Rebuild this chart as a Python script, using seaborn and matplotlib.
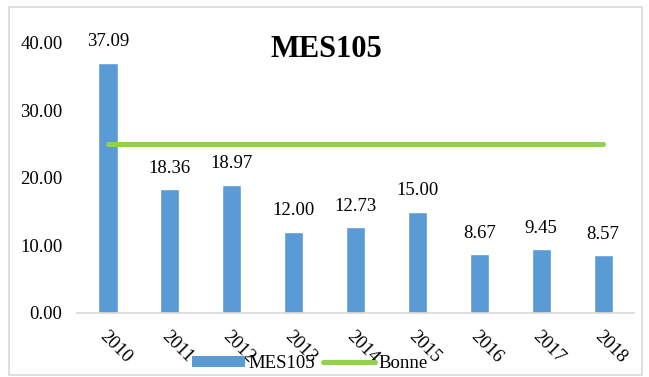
import matplotlib
matplotlib.use("Agg")
import matplotlib.pyplot as plt
import seaborn as sns
import pandas as pd
from matplotlib.patches import Patch, Rectangle
from matplotlib.lines import Line2D

years = ["2010", "2011", "2012", "2013", "2014", "2015", "2016", "2017", "2018"]
mes105 = [37.09, 18.36, 18.97, 12.00, 12.73, 15.00, 8.67, 9.45, 8.57]
bonne = [25, 25, 25, 25, 25, 25, 25, 25, 25]
yticks = [0, 10, 20, 30, 40]

BAR = "#5B9BD5"
GREEN = "#92D050"
GRID = "#D9D9D9"
FS = 13.5

sns.set_theme(style="white")
plt.rcParams["font.family"] = ["Liberation Serif", "DejaVu Serif"]
plt.rcParams["text.color"] = "black"
plt.rcParams["xtick.color"] = "black"
plt.rcParams["ytick.color"] = "black"

df = pd.DataFrame({"year": years, "MES105": mes105, "Bonne": bonne})

fig = plt.figure(figsize=(6.49, 3.77), dpi=100)
ax = fig.add_axes([0.1186, 0.1698, 0.8584, 0.7162])

sns.barplot(data=df, x="year", y="MES105", color=BAR, width=0.31,
            saturation=1, ax=ax, zorder=2)
sns.lineplot(data=df, x="year", y="Bonne", color=GREEN, linewidth=3.6,
             ax=ax, zorder=3, solid_capstyle="round")

for i, v in enumerate(mes105):
    ax.annotate(f"{v:.2f}", (i, v), xytext=(0, 9), textcoords="offset points",
                ha="center", va="bottom", fontsize=FS, color="black",
                annotation_clip=False)

ax.set_ylim(0, 40)
ax.set_xlim(-0.5, len(years) - 0.5)
ax.set_yticks(yticks)
ax.set_yticklabels([f"{t:.2f}" for t in yticks], fontsize=FS, color="black")
ax.set_xticks(range(len(years)))
ax.set_xticklabels(years, rotation=-45, ha="left", va="top",
                   rotation_mode="anchor", fontsize=FS, color="black")
ax.tick_params(axis="y", length=0, pad=10.5)
ax.tick_params(axis="x", length=0, pad=11)
ax.set_xlabel("")
ax.set_ylabel("")
for s in ["top", "left", "right"]:
    ax.spines[s].set_visible(False)
ax.spines["bottom"].set_color(GRID)
ax.spines["bottom"].set_linewidth(1.2)
if ax.get_legend():
    ax.get_legend().remove()

fig.text(0.503, 0.849, "MES105", ha="center", va="baseline",
         fontsize=22, fontweight="bold", color="black")

handles = [Patch(facecolor=BAR, edgecolor="none"),
           Line2D([0], [0], color=GREEN, linewidth=3.6)]
leg = fig.legend(handles, ["MES105", "Bonne"], loc="center", ncol=2,
                 bbox_to_anchor=(0.478, 0.035), frameon=False, fontsize=FS,
                 handlelength=2.8, handletextpad=0.2, columnspacing=0.4,
                 borderpad=0, handleheight=0.55)
for t in leg.get_texts():
    t.set_color("black")

fig.patches.append(Rectangle((9 / 649, 2 / 377), 633 / 649, 368 / 377,
                             transform=fig.transFigure, fill=False,
                             edgecolor=GRID, linewidth=1.2))

fig.savefig("out.png", dpi=100)
